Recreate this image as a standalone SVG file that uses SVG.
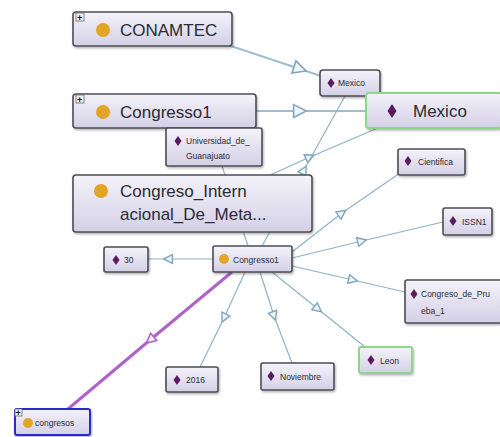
<svg xmlns="http://www.w3.org/2000/svg" width="500" height="437" viewBox="0 0 500 437">
  <defs>
    <linearGradient id="nodeFill" x1="0" y1="0" x2="0" y2="1">
      <stop offset="0" stop-color="#f4f3fa"/>
      <stop offset="1" stop-color="#d3d0e6"/>
    </linearGradient>
    <filter id="shadow" x="-10%" y="-20%" width="130%" height="160%">
      <feDropShadow dx="1" dy="1.5" stdDeviation="1" flood-color="#000" flood-opacity="0.3"/>
    </filter>
    <marker id="tri" viewBox="0 0 10 10" refX="5" refY="5" markerWidth="11" markerHeight="11" markerUnits="userSpaceOnUse" orient="auto">
      <path d="M1,1 L9,5 L1,9 Z" fill="#eef6fb" stroke="#7fa6bf" stroke-width="1.3"/>
    </marker>
    <marker id="triBig" viewBox="0 0 10 10" refX="5" refY="5" markerWidth="16" markerHeight="16" markerUnits="userSpaceOnUse" orient="auto">
      <path d="M1,1 L9,5 L1,9 Z" fill="#eef6fb" stroke="#7fa6bf" stroke-width="1"/>
    </marker>
    <marker id="triPurple" viewBox="0 0 10 10" refX="5" refY="5" markerWidth="12" markerHeight="12" markerUnits="userSpaceOnUse" orient="auto">
      <path d="M1,1 L9,5 L1,9 Z" fill="#fbeefd" stroke="#b062c8" stroke-width="1.3"/>
    </marker>
    <g id="dia"><path d="M0,-7 L4.5,0 L0,7 L-4.5,0 Z" fill="#5c1a5e"/></g>
    <g id="diaS"><path d="M0,-5 L3.5,0 L0,5 L-3.5,0 Z" fill="#5c1a5e"/></g>
  </defs>
  <style>
    .box { fill: url(#nodeFill); stroke: #4d4d55; stroke-width: 1.6; filter: url(#shadow); }
    .green { stroke: #8fd68a; stroke-width: 2; }
    .blue { stroke: #2a2ad0; stroke-width: 2; }
    .edge { fill: none; stroke: #8fb2c8; stroke-width: 1.2; marker-mid: url(#tri); }
    .edgeBig { fill: none; stroke: #9ebdd0; stroke-width: 2; marker-mid: url(#triBig); }
    .edgeP { fill: none; stroke: #b062c8; stroke-width: 3; marker-mid: url(#triPurple); }
    .big { font-family: "Liberation Sans", Arial, sans-serif; font-size: 17px; fill: #2b2b35; }
    .small { font-family: "Liberation Sans", Arial, sans-serif; font-size: 8.5px; fill: #2b2b35; }
    .cls { fill: #e2a526; }
    .plus { fill: #f2f2f2; stroke: #666; stroke-width: 0.8; }
    .plusT { font-family: "Liberation Sans", Arial, sans-serif; font-size: 9px; font-weight: bold; fill: #111; }
  </style>

  <g id="connectors">
    <path class="edgeBig" d="M228,45 L300,69 L372,93"/>
    <path class="edgeBig" d="M256,111 L300,111 L366,111"/>
    <path class="edge" d="M268,176 L310,157 L385,125"/>
    <path class="edge" d="M262,246 L304,170 L345,96"/>
    <path class="edge" d="M222,166 L235,206 L248,246"/>
    <path class="edge" d="M292,252 L342,213 L400,173"/>
    <path class="edge" d="M292,258 L362,241 L443,222"/>
    <path class="edge" d="M292,266 L353,280 L405,292"/>
    <path class="edge" d="M272,272 L318,309 L365,347"/>
    <path class="edge" d="M260,272 L274,316 L292,363"/>
    <path class="edge" d="M245,272 L224,318 L200,367"/>
    <path class="edge" d="M213,259 L168,259 L148,259"/>
    <path class="edgeP" d="M232,272 L150,340 L68,409"/>
  </g>

  <g id="n-conamtec">
    <rect class="box" x="73" y="12" width="159" height="34" rx="3"/>
    <rect class="plus" x="76" y="13" width="8" height="8"/>
    <text class="plusT" x="77" y="21">+</text>
    <circle class="cls" cx="103" cy="30" r="7"/>
    <text class="big" x="120" y="36">CONAMTEC</text>
  </g>

  <g id="n-congresso1-big">
    <rect class="box" x="73" y="94" width="183" height="34" rx="3"/>
    <rect class="plus" x="76" y="95" width="8" height="8"/>
    <text class="plusT" x="77" y="103">+</text>
    <circle class="cls" cx="103" cy="112" r="7"/>
    <text class="big" x="120" y="118">Congresso1</text>
  </g>

  <g id="n-mexico-small">
    <rect class="box" x="320" y="70" width="60" height="26" rx="3"/>
    <use href="#diaS" x="331" y="83"/>
    <text class="small" x="338" y="86" font-size="7">Mexico</text>
  </g>

  <g id="n-mexico">
    <rect class="box green" x="366" y="93" width="136" height="35" rx="3"/>
    <use href="#dia" x="392" y="111"/>
    <text class="big" x="413" y="117">Mexico</text>
  </g>

  <g id="n-universidad">
    <rect class="box" x="166" y="128" width="96" height="38" rx="2"/>
    <use href="#diaS" x="178" y="141"/>
    <text class="small" x="186" y="144">Universidad_de_</text>
    <text class="small" x="186" y="159">Guanajuato</text>
  </g>

  <g id="n-congreso-internacional">
    <rect class="box" x="73" y="175" width="239" height="57" rx="3"/>
    <circle class="cls" cx="101" cy="191" r="7"/>
    <text class="big" x="120" y="197">Congreso_Intern</text>
    <text class="big" x="120" y="220">acional_De_Meta...</text>
  </g>

  <g id="n-cientifica">
    <rect class="box" x="398" y="149" width="67" height="26" rx="2"/>
    <use href="#diaS" x="408" y="161"/>
    <text class="small" x="418" y="165">Cientifica</text>
  </g>

  <g id="n-issn1">
    <rect class="box" x="443" y="208" width="49" height="27" rx="2"/>
    <use href="#diaS" x="453" y="221"/>
    <text class="small" x="462" y="225">ISSN1</text>
  </g>

  <g id="n-30">
    <rect class="box" x="104" y="247" width="44" height="25" rx="2"/>
    <use href="#diaS" x="116" y="260"/>
    <text class="small" x="124" y="263">30</text>
  </g>

  <g id="n-congresso1">
    <rect class="box" x="213" y="246" width="79" height="26" rx="2"/>
    <circle class="cls" cx="224" cy="259" r="5"/>
    <text class="small" x="233" y="263">Congresso1</text>
  </g>

  <g id="n-congreso-prueba">
    <rect class="box" x="405" y="280" width="97" height="43" rx="2"/>
    <use href="#diaS" x="414" y="294"/>
    <text class="small" x="421" y="297">Congreso_de_Pru</text>
    <text class="small" x="421" y="314">eba_1</text>
  </g>

  <g id="n-leon">
    <rect class="box green" x="359" y="347" width="53" height="26" rx="2"/>
    <use href="#diaS" x="371" y="360"/>
    <text class="small" x="380" y="364">Leon</text>
  </g>

  <g id="n-2016">
    <rect class="box" x="166" y="367" width="52" height="25" rx="2"/>
    <use href="#diaS" x="177" y="380"/>
    <text class="small" x="186" y="383">2016</text>
  </g>

  <g id="n-noviembre">
    <rect class="box" x="261" y="363" width="73" height="27" rx="2"/>
    <use href="#diaS" x="271" y="376"/>
    <text class="small" x="280" y="380">Noviembre</text>
  </g>

  <g id="n-congresos">
    <rect class="box blue" x="15" y="409" width="75" height="26" rx="2"/>
    <rect class="plus" x="15" y="409" width="7" height="7"/>
    <text class="plusT" x="15.5" y="416" font-size="8">+</text>
    <circle class="cls" cx="28" cy="423" r="5"/>
    <text class="small" x="35" y="426">congresos</text>
  </g>
</svg>
